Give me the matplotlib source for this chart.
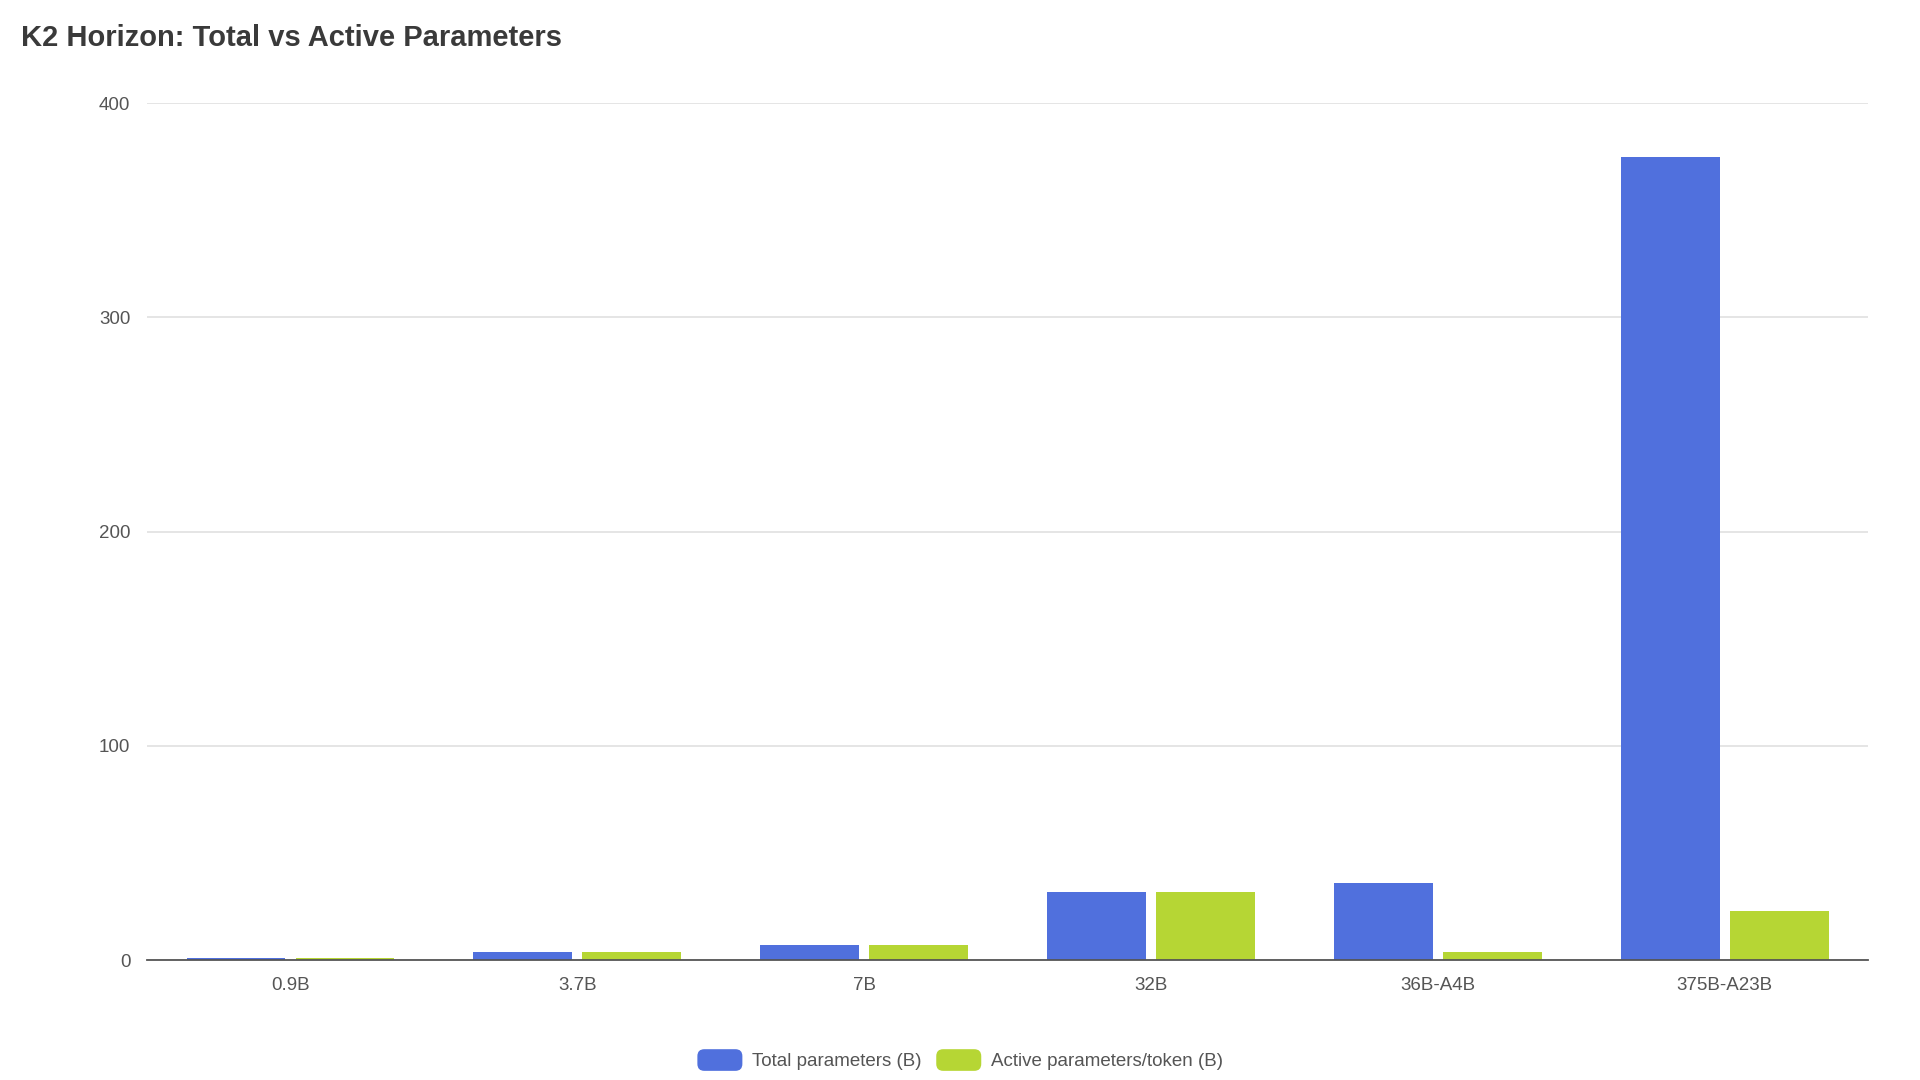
import matplotlib
matplotlib.use("Agg")
import matplotlib.pyplot as plt
from matplotlib.patches import FancyBboxPatch, Rectangle
from matplotlib.legend_handler import HandlerPatch
import numpy as np

plt.rcParams['font.family'] = ['Liberation Sans', 'DejaVu Sans']

# data
models = ["0.9B", "3.7B", "7B", "32B", "36B-A4B", "375B-A23B"]
total_params = [0.9, 3.7, 7, 32, 36, 375]
active_params = [0.9, 3.7, 7, 32, 4, 23]
series_names = ["Total parameters (B)", "Active parameters/token (B)"]
yticks = [0, 100, 200, 300, 400]

blue = "#5070dd"
green = "#b6d634"
label_grey = "#555555"


class RoundHandler(HandlerPatch):
    # rounded legend swatches like the original
    def create_artists(self, legend, orig_handle, xdescent, ydescent,
                       width, height, fontsize, trans):
        p = FancyBboxPatch((-xdescent, -ydescent), width, height,
                           boxstyle="round,pad=0,rounding_size=5",
                           facecolor=orig_handle.get_facecolor(),
                           edgecolor="none", transform=trans)
        return [p]


fig = plt.figure(figsize=(19.2, 10.8), dpi=100)
ax = fig.add_axes([0.0766, 0.111, 0.8964, 0.7934])

x = np.arange(len(models))
w = 0.345
off = 0.19
ax.bar(x - off, total_params, w, color=blue, zorder=3)
ax.bar(x + off, active_params, w, color=green, zorder=3)

ax.set_xlim(-0.5, len(models) - 0.5)
ax.set_ylim(0, 400)
ax.set_yticks(yticks)
ax.set_xticks(x)
ax.set_xticklabels(models)
ax.tick_params(axis='both', length=0, labelsize=13.5, colors=label_grey)
ax.tick_params(axis='y', pad=12)
ax.tick_params(axis='x', pad=12)
ax.yaxis.grid(True, color="#e0e0e0", linewidth=1.2, zorder=0)

for s in ["top", "right", "left"]:
    ax.spines[s].set_visible(False)
ax.spines["bottom"].set_color("#555555")
ax.spines["bottom"].set_linewidth(1.3)
ax.spines["bottom"].set_zorder(4)

fig.text(0.011, 0.965, "K2 Horizon: Total vs Active Parameters",
         fontsize=21, fontweight="bold", color="#3a3a3a", va="center", ha="left")

h1 = Rectangle((0, 0), 1, 1, facecolor=blue)
h2 = Rectangle((0, 0), 1, 1, facecolor=green)
fig.legend(handles=[h1, h2], labels=series_names, loc="center",
           bbox_to_anchor=(0.5, 0.0185),
           ncol=2, frameon=False, fontsize=13.5, labelcolor="#555555",
           handlelength=2.4, handleheight=1.4, handletextpad=0.5, columnspacing=0.8,
           handler_map={Rectangle: RoundHandler()})

fig.savefig("out.png", dpi=100, facecolor="white")
